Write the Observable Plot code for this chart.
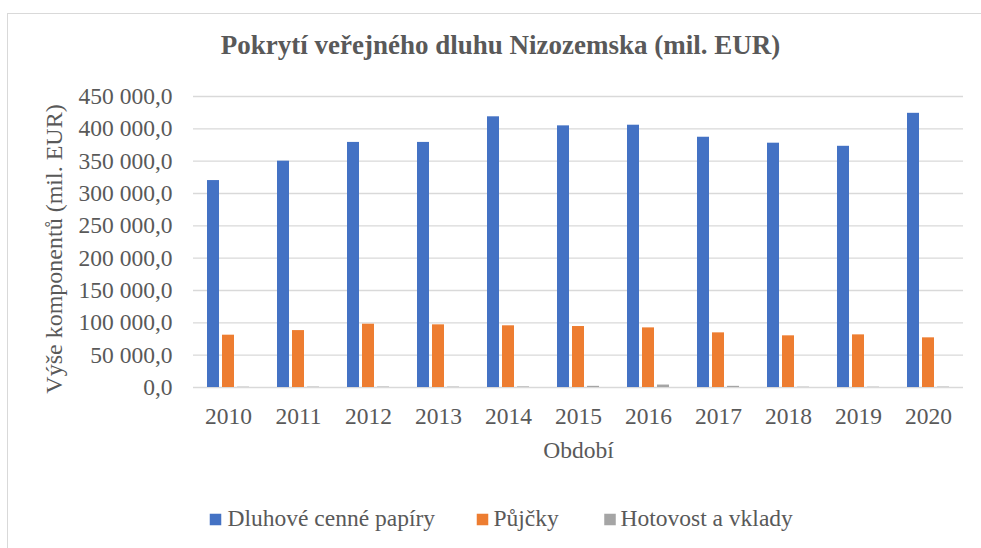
<!DOCTYPE html>
<html>
<head>
<meta charset="utf-8">
<script src="https://cdn.jsdelivr.net/npm/d3@7"></script>
<script src="https://cdn.jsdelivr.net/npm/@observablehq/plot@0.6"></script>
<style>
  html, body { margin: 0; padding: 0; background: #fff; overflow: hidden; }
  body { width: 981px; height: 548px; position: relative; }
  #frame { position: absolute; left: 7px; top: 13px; width: 1000px; height: 600px; border: 1px solid #d9d9d9; box-sizing: border-box; }
  #chart { position: absolute; left: 0; top: 0; }
  #ytitle { position: absolute; left: 53.5px; top: 249px; white-space: nowrap; line-height: 1;
            font-family: 'Liberation Serif', 'Times New Roman', serif; font-size: 24px; color: #595959;
            transform: translate(-50%, -50%) rotate(-90deg); }
</style>
</head>
<body>
<div id="frame"></div>
<div id="chart"></div>
<div id="ytitle"></div>
<script>
// ---- data ----
const chartTitle = "Pokrytí veřejného dluhu Nizozemska (mil. EUR)";
const yTitle = "Výše komponentů (mil. EUR)";
const xTitle = "Období";
const years = ["2010", "2011", "2012", "2013", "2014", "2015", "2016", "2017", "2018", "2019", "2020"];
const seriesNames = ["Dluhové cenné papíry", "Půjčky", "Hotovost a vklady"];
const dluhoveCennePapiry = [320000, 350000, 379000, 379000, 418600, 404600, 405600, 387000, 377800, 373000, 424000];
const pujcky = [80900, 88000, 97900, 96900, 95400, 94300, 92200, 84500, 79900, 81400, 76800];
const hotovostAVklady = [500, 600, 700, 600, 900, 1800, 3800, 1800, 500, 500, 600];
const yTicks = [0, 50000, 100000, 150000, 200000, 250000, 300000, 350000, 400000, 450000];
const seriesColors = ["#4472c4", "#ed7d31", "#a5a5a5"];

// layout (offsets from the plot frame, in px)
const legendTextDx = [34, 300, 427];
const legendSwatchDx = [22, 289, 416.5];

const serifFont = "'Liberation Serif', 'Times New Roman', serif";
const textColor = "#595959";
const seriesValues = [dluhoveCennePapiry, pujcky, hotovostAVklady];
const rows = [];
seriesNames.forEach((s, si) => years.forEach((y, yi) => rows.push({year: y, series: s, value: seriesValues[si][yi]})));

const locale = d3.formatLocale({decimal: ",", thousands: " ", grouping: [3], currency: ["", ""]});
const fmt = locale.format(",.1f");

const barStep = 15;
const marks = [
  Plot.ruleY(yTicks, {stroke: "#d9d9d9", strokeWidth: 1.3})
];
seriesNames.forEach((s, i) => {
  marks.push(Plot.barY(rows.filter(d => d.series === s), {
    x: "year", y: "value", fill: "series",
    insetLeft: i * barStep, insetRight: (seriesNames.length - 1 - i) * barStep
  }));
});

// titles
marks.push(Plot.text([chartTitle], {frameAnchor: "top", dx: -78, dy: -42.5, lineAnchor: "bottom",
  fontSize: 27, fontWeight: "bold", fill: textColor, fontFamily: serifFont}));
marks.push(Plot.text([xTitle], {frameAnchor: "bottom", dy: 70, lineAnchor: "bottom",
  fontSize: 23.5, fill: textColor, fontFamily: serifFont}));

// legend
seriesNames.forEach((s, i) => {
  marks.push(Plot.dot([s], {frameAnchor: "bottom-left", dx: legendSwatchDx[i], dy: 132,
    symbol: "square", r: 6.5, fill: d => d, stroke: null}));
  marks.push(Plot.text([s], {frameAnchor: "bottom-left", dx: legendTextDx[i], dy: 138,
    textAnchor: "start", lineAnchor: "bottom", fontSize: 23.5, fill: textColor, fontFamily: serifFont}));
});

const plot = Plot.plot({
  width: 981,
  height: 548,
  marginLeft: 193,
  marginRight: 18,
  marginTop: 96,
  marginBottom: 161,
  style: {fontFamily: serifFont, color: textColor, background: "transparent"},
  x: {domain: years, paddingInner: 0.4, paddingOuter: 0.2, axis: null},
  y: {domain: [0, 450000], axis: null},
  color: {domain: seriesNames, range: seriesColors},
  marks: [
    ...marks,
    Plot.axisX({tickSize: 0, tickPadding: 20, fontSize: 23.5, label: null, fill: textColor}),
    Plot.axisY(yTicks, {tickSize: 0, tickPadding: 21, fontSize: 23.5, tickFormat: fmt, label: null, fill: textColor})
  ]
});
document.getElementById("chart").appendChild(plot);
document.getElementById("ytitle").textContent = yTitle;
</script>
</body>
</html>
